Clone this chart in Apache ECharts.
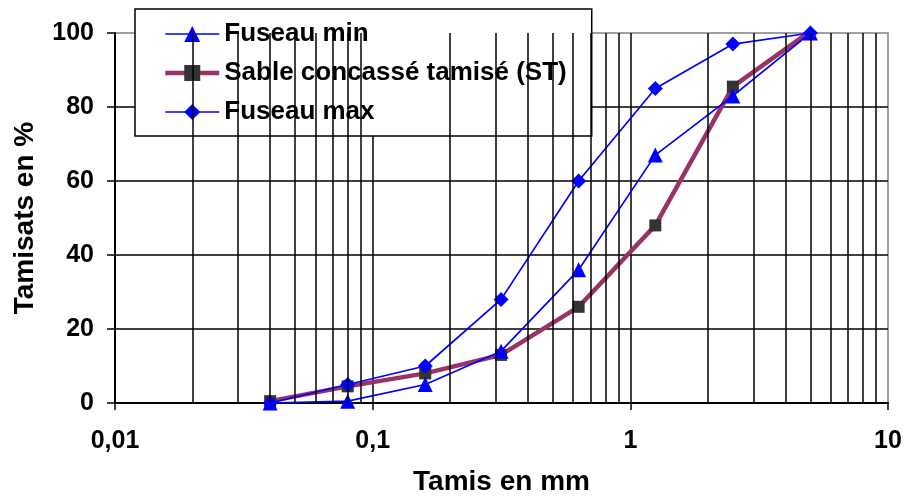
<!DOCTYPE html>
<html>
<head>
<meta charset="utf-8">
<script src="https://cdn.jsdelivr.net/npm/echarts@6/dist/echarts.min.js"></script>
<style>
html,body{margin:0;padding:0;background:#fff;}
#c{width:907px;height:497px;}
</style>
</head>
<body>
<div id="c"></div>
<script>
// Data
const sieves = [0.04, 0.08, 0.16, 0.315, 0.63, 1.25, 2.5, 5];
const fuseauMin = [0, 0.5, 5, 14, 36, 67, 83, 100];
const sable = [0.5, 4.5, 8, 13, 26, 48, 85.5, 100.5];
const fuseauMax = [0, 5, 10, 28, 60, 85, 97, 100];
const seriesNames = ['Fuseau min', 'Sable concassé tamisé (ST)', 'Fuseau max'];
const xTickLabels = { '0.01': '0,01', '0.1': '0,1', '1': '1', '10': '10' };
const yTicks = [0, 20, 40, 60, 80, 100];
const minorGrid = [0.02,0.03,0.04,0.05,0.06,0.07,0.08,0.09,
                   0.2,0.3,0.4,0.5,0.6,0.7,0.8,0.9,
                   2,3,4,5,6,7,8,9];

const FONT = '"Liberation Sans", Arial, sans-serif';
const pair = (xs, ys) => xs.map((x, i) => [x, ys[i]]);

const chart = echarts.init(document.getElementById('c'), null, { renderer: 'canvas' });
chart.setOption({
  animation: false,
  backgroundColor: '#fff',
  grid: {
    left: 115, top: 33, right: 19, bottom: 94,
    outerBoundsMode: 'none', containLabel: false,
    show: true, borderColor: '#808080', borderWidth: 1.5, backgroundColor: 'transparent'
  },
  legend: {
    data: seriesNames,
    orient: 'vertical',
    left: 135, top: 9,
    padding: [12, 25, 11, 28],
    itemGap: 13,
    itemWidth: 54, itemHeight: 20,
    backgroundColor: '#fff',
    borderColor: '#000', borderWidth: 1.5,
    lineStyle: { width: 'inherit' },
    textStyle: { fontFamily: FONT, fontWeight: 'bold', fontSize: 26, color: '#000', lineHeight: 26 }
  },
  xAxis: {
    type: 'log', logBase: 10, min: 0.01, max: 10,
    name: 'Tamis en mm', nameLocation: 'middle', nameGap: 65,
    nameTextStyle: { fontFamily: FONT, fontWeight: 'bold', fontSize: 28, color: '#000' },
    axisLine: { lineStyle: { color: '#000', width: 2 } },
    axisTick: { show: true, length: 7, lineStyle: { color: '#000', width: 1.5 } },
    axisLabel: {
      margin: 26, fontFamily: FONT, fontWeight: 'bold', fontSize: 25, color: '#000',
      formatter: v => { const k = String(Number(v.toPrecision(6))); return xTickLabels[k] !== undefined ? xTickLabels[k] : k; }
    },
    splitLine: { show: true, showMinLine: false, showMaxLine: false, lineStyle: { color: '#000', width: 1.5 } }
  },
  yAxis: {
    type: 'value', min: yTicks[0], max: yTicks[yTicks.length - 1], interval: 20,
    name: 'Tamisats en %', nameLocation: 'middle', nameGap: 76,
    nameTextStyle: { fontFamily: FONT, fontWeight: 'bold', fontSize: 28, color: '#000' },
    axisLine: { show: true, lineStyle: { color: '#000', width: 2 } },
    axisTick: { show: true, length: 8, lineStyle: { color: '#000', width: 1.5 } },
    axisLabel: { margin: 21, fontFamily: FONT, fontWeight: 'bold', fontSize: 25, color: '#000' },
    splitLine: { show: true, showMinLine: false, showMaxLine: false, lineStyle: { color: '#000', width: 1.5 } }
  },
  series: [
    {
      name: 'minorGrid', type: 'line', data: [], silent: true, z: 1,
      markLine: {
        silent: true, symbol: 'none', label: { show: false },
        lineStyle: { color: '#000', width: 1.5, type: 'solid' },
        data: minorGrid.map(v => ({ xAxis: v }))
      }
    },
    {
      name: seriesNames[0], type: 'line', data: pair(sieves, fuseauMin), z: 3,
      symbol: 'triangle', symbolSize: 15,
      lineStyle: { color: '#0000FF', width: 1.7 },
      itemStyle: { color: '#0000FF' }
    },
    {
      name: seriesNames[1], type: 'line', data: pair(sieves, sable), z: 2,
      symbol: 'rect', symbolSize: 12,
      lineStyle: { color: '#993366', width: 4.5 },
      itemStyle: { color: '#333333' }
    },
    {
      name: seriesNames[2], type: 'line', data: pair(sieves, fuseauMax), z: 3,
      symbol: 'diamond', symbolSize: 15,
      lineStyle: { color: '#0000FF', width: 1.7 },
      itemStyle: { color: '#0000FF' }
    }
  ]
});
</script>
</body>
</html>
